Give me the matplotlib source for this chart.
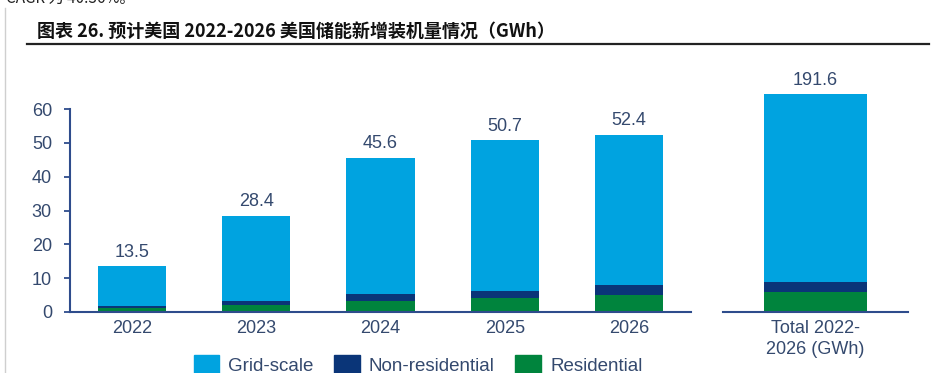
import matplotlib
matplotlib.use("Agg")
import matplotlib.pyplot as plt
from matplotlib.patches import Patch
from matplotlib.lines import Line2D

# ---- data ----
years = ["2022", "2023", "2024", "2025", "2026"]
residential = [1.3, 2.0, 3.3, 4.1, 5.1]
non_residential = [0.6, 1.3, 2.1, 2.2, 2.9]
totals = [13.5, 28.4, 45.6, 50.7, 52.4]
grid_scale = [t - r - n for t, r, n in zip(totals, residential, non_residential)]

total_label = "Total 2022-\n2026 (GWh)"
total_residential = 17.8
total_non_residential = 8.8
total_value = 191.6
total_grid = total_value - total_residential - total_non_residential

series_names = ["Grid-scale", "Non-residential", "Residential"]
yticks = [0, 10, 20, 30, 40, 50, 60]

# ---- style ----
c_grid = "#00A3E0"
c_nonres = "#0A3578"
c_res = "#00843D"
txt = "#34496E"
spine = "#2E4C8C"
FS = 13

plt.rcParams["font.family"] = ["Liberation Sans", "DejaVu Sans"]

fig = plt.figure(figsize=(9.45, 3.73), dpi=100)
W, H = 945, 373

def fx(px):
    return px / W

def fy(py):
    return 1 - py / H

# cut-off text at the very top
fig.text(fx(6), fy(3), "CAGR 为 40.36%。", fontsize=11, color="#222222",
         family=["Noto Sans CJK SC", "DejaVu Sans"], va="baseline", ha="left")

# title
fig.text(fx(37), fy(31), "图表 26. 预计美国 2022-2026 美国储能新增装机量情况（GWh）",
         fontsize=13, fontweight="bold", color="#111111",
         family=["Noto Sans CJK SC", "DejaVu Sans"], va="center", ha="left")
fig.add_artist(Line2D([fx(27), fx(929)], [fy(44), fy(44)], color="#222222", lw=1.6))
# left gray frame line
fig.add_artist(Line2D([fx(5), fx(5)], [fy(8), fy(373)], color="#CFCFCF", lw=1.0))

# ---- main axes ----
ax = fig.add_axes([fx(70), fy(312), fx(691) - fx(70), (312 - 109) / H])
x = list(range(len(years)))
w = 0.55
ax.bar(x, residential, w, color=c_res)
ax.bar(x, non_residential, w, bottom=residential, color=c_nonres)
bott = [r + n for r, n in zip(residential, non_residential)]
ax.bar(x, grid_scale, w, bottom=bott, color=c_grid)
for xi, t in zip(x, totals):
    ax.annotate(f"{t:.1f}", (xi, t), xytext=(0, 4), textcoords="offset points",
                ha="center", va="bottom", fontsize=FS, color=txt)
ax.set_xlim(-0.5, 4.5)
ax.set_ylim(0, 60)
ax.set_yticks(yticks)
ax.set_xticks(x)
ax.set_xticklabels(years)
for s in ["top", "right"]:
    ax.spines[s].set_visible(False)
for s in ["left", "bottom"]:
    ax.spines[s].set_color(spine)
    ax.spines[s].set_linewidth(1.5)
ax.tick_params(axis="y", direction="out", length=4, width=1.3, color=spine,
               labelsize=FS, labelcolor=txt, pad=9)
ax.tick_params(axis="x", length=0, labelsize=FS, labelcolor=txt, pad=6)

# ---- total axes ----
ax2 = fig.add_axes([fx(723), fy(312), fx(908) - fx(723), (312 - 109) / H])
w2 = 0.56
ax2.bar([0], [total_residential], w2, color=c_res, clip_on=False)
ax2.bar([0], [total_non_residential], w2, bottom=[total_residential], color=c_nonres, clip_on=False)
ax2.bar([0], [total_grid], w2, bottom=[total_residential + total_non_residential],
        color=c_grid, clip_on=False)
ax2.annotate(f"{total_value:.1f}", (0, total_value), xytext=(0, 4), textcoords="offset points",
             ha="center", va="bottom", fontsize=FS, color=txt, annotation_clip=False)
ax2.set_xlim(-0.5, 0.5)
ax2.set_ylim(0, 178.5)
ax2.set_yticks([])
ax2.set_xticks([0])
ax2.set_xticklabels([total_label])
for s in ["top", "right", "left"]:
    ax2.spines[s].set_visible(False)
ax2.spines["bottom"].set_color(spine)
ax2.spines["bottom"].set_linewidth(1.5)
ax2.tick_params(axis="x", length=0, labelsize=FS, labelcolor=txt, pad=6)
for lab in ax2.get_xticklabels():
    lab.set_linespacing(1.25)

# ---- legend ----
handles = [Patch(color=c_grid), Patch(color=c_nonres), Patch(color=c_res)]
fig.legend(handles, series_names, loc="center", bbox_to_anchor=(fx(418), fy(365)),
           ncol=3, frameon=False, fontsize=13.5, labelcolor=txt,
           handlelength=1.35, handleheight=1.1, handletextpad=0.5, columnspacing=1.1,
           borderpad=0)

fig.savefig("out.png", dpi=100)
